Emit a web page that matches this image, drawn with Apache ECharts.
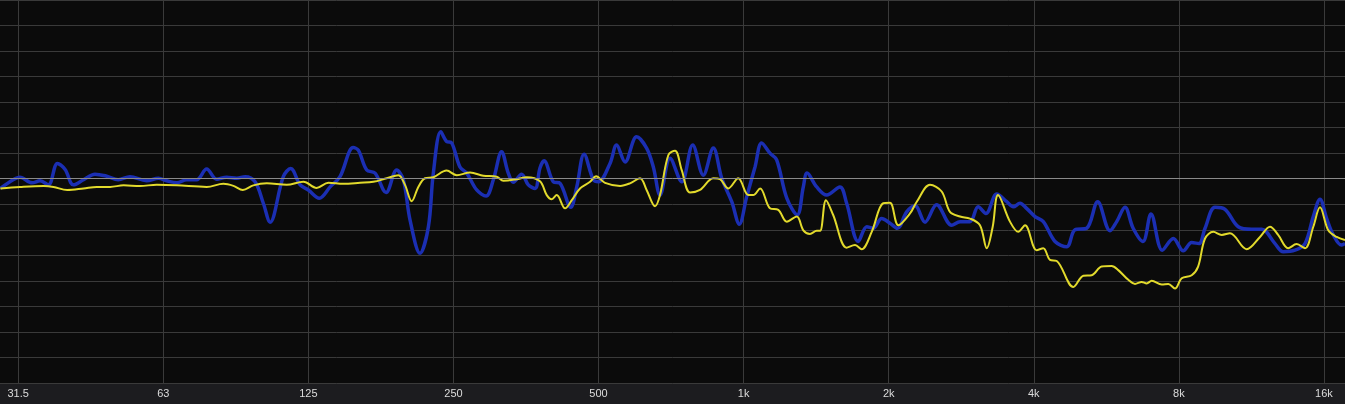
<!DOCTYPE html>
<html>
<head>
<meta charset="utf-8">
<script src="https://cdn.jsdelivr.net/npm/echarts@6/dist/echarts.min.js"></script>
<style>
html,body{margin:0;padding:0;background:#1c1c1f;overflow:hidden;}
#chart{width:1345px;height:404px;}
</style>
</head>
<body>
<div id="chart"></div>
<script>
// ---- axis data ----
const FREQ_RANGE = [28.65, 17691];           // Hz at left / right edge
const TICK_FREQS = [31.25, 62.5, 125, 250, 500, 1000, 2000, 4000, 8000, 16000];
const TICK_LABELS = ['31.5', '63', '125', '250', '500', '1k', '2k', '4k', '8k', '16k'];
const DB_RANGE = [-40, 35];
const DB_STEP = 5;
const REF_DB = 0;

// ---- blue trace (Hz, dB) ----
const BLUE_FREQ = [
  28.7, 30.5, 31.5, 33.4, 34.7, 36.1, 37.7, 39.1, 40.7, 42.7,
  45.1, 47.7, 50.4, 53.3, 57.7, 61.1, 63.5, 66.7, 69.9, 73.3,
  76.9, 80.7, 84.6, 88.8, 92.4, 96.9, 100.8, 104.1, 110.9, 114.9,
  120.2, 125, 131.7, 138.7, 145.4, 154.9, 158.7, 165.2, 171.9, 181.2,
  190.6, 196.8, 203.2, 213.1, 221.8, 227.1, 235.3, 242, 248, 257.9,
  266.4, 279.4, 292.1, 302.5, 314.7, 324.9, 332.8, 346.2, 357.5, 369.2,
  378, 385.4, 402.9, 416.1, 437.8, 450.6, 466.6, 487.7, 500, 528.2,
  545.1, 567.5, 599.8, 629.1, 649.6, 670.7, 703.6, 744, 784.1, 824.8,
  865.2, 900.7, 944.8, 979.7, 1015, 1056, 1090, 1134, 1171, 1229,
  1292, 1330, 1354, 1418, 1487, 1584, 1636, 1730, 1801, 1857,
  1933, 2012, 2084, 2179, 2268, 2379, 2514, 2702, 2812, 2949,
  3067, 3182, 3351, 3515, 3627, 3745, 3865, 4023, 4186, 4427,
  4681, 4870, 5150, 5428, 5757, 5944, 6184, 6430, 6737, 7002,
  7390, 7790, 8170, 8505, 8807, 9065, 9507, 9972, 10624, 11328,
  11882, 12663, 13174, 13932, 14614, 15204, 15698, 16208, 16728, 17397,
  17691
];
const BLUE_DB = [
  -1.9, -0.2, 0.3, -0.8, -0.4, -1.2, 3.0, 1.8, -1.2, -0.2,
  0.9, 0.5, -0.2, 0.4, -0.4, 0.1, -0.4, -0.8, -0.2, -0.2,
  1.9, -0.1, 0.3, 0.1, 0.4, -0.6, -4.8, -8.5, 0.4, 2.0,
  -1.2, -2.2, -3.8, -1.6, 0.4, 6.1, 5.6, 1.7, 1.1, -2.7,
  1.7, -0.2, -8.1, -14.6, -9.4, 1.1, 9.2, 7.3, 7.0, 2.3,
  1.1, -2.2, -3.4, -0.2, 5.3, 1.1, -0.7, 0.9, -1.2, -1.9,
  2.1, 3.5, -0.6, -0.9, -5.6, -1.6, 4.8, -0.2, -0.6, 3.0,
  6.6, 3.3, 8.2, 6.0, 2.3, -3.2, 4.0, -0.6, 6.6, 0.7,
  6.0, 0.1, -4.5, -8.9, -3.5, 2.3, 7.0, 5.0, 3.7, -3.8,
  -7.1, -1.6, 1.1, -1.6, -3.2, -1.6, -4.8, -12.3, -9.4, -9.7,
  -7.8, -8.7, -9.7, -6.5, -5.3, -8.5, -5.1, -9.1, -8.4, -8.4,
  -5.5, -6.8, -3.0, -4.5, -5.5, -4.8, -5.8, -7.4, -8.4, -12.3,
  -13.3, -10.0, -9.7, -4.5, -10.2, -8.4, -5.6, -9.7, -12.3, -6.9,
  -14.0, -11.7, -14.1, -12.5, -12.7, -9.7, -5.6, -6.0, -9.4, -9.9,
  -9.9, -12.7, -14.3, -14.0, -12.7, -7.4, -4.0, -7.8, -11.0, -13.0,
  -12.7
];

// ---- yellow trace (Hz, dB) ----
const YELLOW_FREQ = [
  28.7, 31.5, 35.3, 37.0, 39.5, 42.7, 45.5, 48.5, 51.7, 55.9,
  60.6, 66.7, 76.9, 83.3, 87.4, 91.4, 96.1, 102.5, 112.7, 122.1,
  130, 137.6, 147.7, 160, 170.5, 181.7, 192.2, 198.3, 204.8, 211.4,
  218.2, 227.1, 242, 254, 270.7, 288.4, 307.4, 317.3, 338.3, 354.8,
  378, 390.4, 399.9, 409.5, 426.1, 440, 457.6, 480.2, 494.1, 515.8,
  554.2, 581.2, 609.6, 629.1, 655, 670.7, 697.7, 720.6, 744, 774.1,
  812, 865.2, 893.4, 929.3, 974.7, 1023, 1047, 1082, 1134, 1180,
  1229, 1289, 1330, 1373, 1418, 1441, 1482, 1534, 1636, 1703,
  1757, 1844, 1948, 2012, 2094, 2214, 2287, 2436, 2576, 2680,
  2812, 2949, 3093, 3195, 3287, 3372, 3570, 3714, 3836, 4056,
  4186, 4322, 4463, 4832, 5068, 5274, 5532, 5802, 5989, 6283,
  6487, 6698, 6860, 7026, 7370, 7606, 7853, 8108, 8505, 8770,
  9065, 9430, 9815, 10212, 11058, 11786, 12362, 12854, 13482, 14042,
  14614, 15204, 15698, 16333, 17000, 17691
];
const YELLOW_DB = [
  -1.9, -1.6, -1.4, -1.6, -2.2, -1.9, -1.6, -1.6, -1.3, -1.4,
  -1.2, -1.3, -1.6, -1.0, -1.4, -2.2, -1.3, -0.9, -1.2, -0.6,
  -1.8, -0.8, -1.0, -0.8, -0.6, 0.1, 0.7, -1.2, -4.4, -1.6,
  0.1, 0.3, 1.6, 0.7, 1.2, 0.6, 0.4, -0.4, -0.1, 0.3,
  -0.5, -3.2, -4.0, -3.2, -5.8, -4.2, -1.9, -0.6, 0.5, -0.8,
  -1.4, -0.9, 0.1, -2.2, -5.4, -3.2, 4.6, 5.5, 1.7, -2.7,
  -2.2, 0.1, -0.1, -1.9, 0.1, -3.2, -3.2, -1.9, -5.8, -6.1,
  -8.4, -7.4, -10.1, -10.8, -10.2, -10.2, -4.2, -7.1, -13.5, -13.0,
  -13.8, -10.4, -4.8, -4.7, -9.1, -6.8, -4.5, -1.2, -2.5, -6.5,
  -7.4, -7.8, -9.1, -13.6, -9.4, -3.2, -8.4, -10.4, -9.1, -14.0,
  -13.6, -15.9, -16.1, -21.2, -19.0, -18.9, -17.2, -17.1, -17.9, -19.8,
  -20.6, -20.2, -20.5, -20.0, -20.7, -20.6, -21.5, -19.5, -18.9, -17.2,
  -11.7, -10.4, -11.0, -10.7, -13.8, -11.4, -9.4, -11.0, -13.6, -12.8,
  -13.6, -9.4, -5.6, -10.1, -11.4, -12.0
];

// ---- build ----
const oct = f => Math.log2(f / 1000);
const toPairs = (fs, ds) => fs.map((f, i) => [oct(f), ds[i]]);
const TICK_OCT = TICK_FREQS.map(oct);

const chart = echarts.init(document.getElementById('chart'), null, { renderer: 'canvas' });
chart.setOption({
  backgroundColor: '#1c1c1f',
  animation: false,
  grid: {
    left: 0, right: 0, top: 0, bottom: 21,
    show: true, backgroundColor: '#0b0b0b', borderWidth: 0
  },
  xAxis: {
    type: 'value',
    min: oct(FREQ_RANGE[0]),
    max: oct(FREQ_RANGE[1]),
    splitNumber: 9,
    minInterval: 1,
    maxInterval: 1,
    axisLine: { show: false },
    axisTick: { show: false },
    splitLine: { show: true, showMinLine: false, showMaxLine: false, lineStyle: { color: '#3a3a3a', width: 1 } },
    axisLabel: {
      show: true,
      showMinLabel: false,
      showMaxLabel: false,
      margin: 5,
      color: '#dcdcdc',
      fontFamily: '"Liberation Sans", Arial, sans-serif',
      fontSize: 11,
      formatter: function (v) {
        for (let i = 0; i < TICK_OCT.length; i++) {
          if (Math.abs(TICK_OCT[i] - v) < 1e-6) return TICK_LABELS[i];
        }
        return '';
      }
    }
  },
  yAxis: {
    type: 'value',
    min: DB_RANGE[0],
    max: DB_RANGE[1],
    interval: DB_STEP,
    axisLine: { show: false },
    axisTick: { show: false },
    axisLabel: { show: false },
    splitLine: { show: true, lineStyle: { color: '#3a3a3a', width: 1 } }
  },
  series: [
    {
      type: 'line', data: [], z: 1, silent: true,
      markLine: {
        silent: true, symbol: 'none', animation: false,
        label: { show: false },
        lineStyle: { color: '#8a8a8a', width: 1, type: 'solid' },
        data: [{ yAxis: REF_DB }]
      }
    },
    {
      name: 'blue', type: 'line', z: 2,
      data: toPairs(BLUE_FREQ, BLUE_DB),
      showSymbol: false, smooth: 0.35,
      lineStyle: { color: '#1b2fb3', width: 3.5 },
      itemStyle: { color: '#1b2fb3' }
    },
    {
      name: 'yellow', type: 'line', z: 3,
      data: toPairs(YELLOW_FREQ, YELLOW_DB),
      showSymbol: false, smooth: 0.35,
      lineStyle: { color: '#e2da2c', width: 2 },
      itemStyle: { color: '#e2da2c' }
    }
  ]
});
</script>
</body>
</html>
